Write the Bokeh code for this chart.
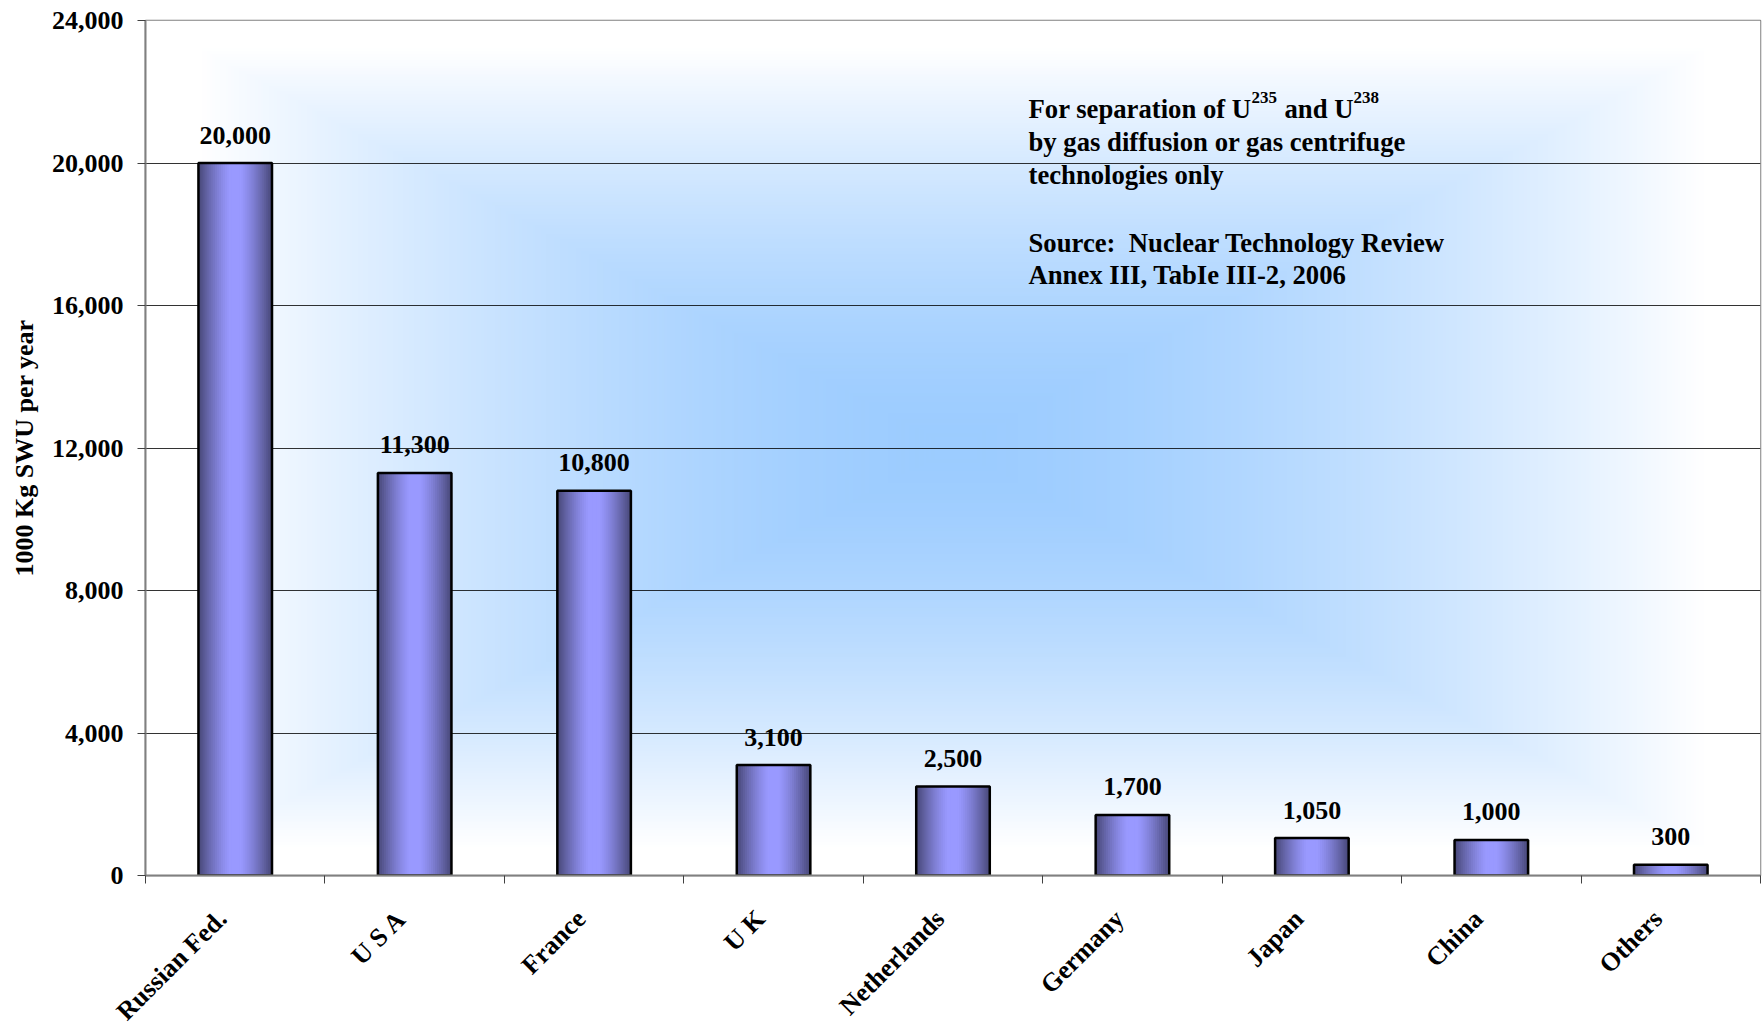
import numpy as np
from bokeh.plotting import figure
from bokeh.layouts import column
from bokeh.models import (Range1d, FixedTicker, NumeralTickFormatter, ColumnDataSource, Label)
from bokeh.embed import file_html
from bokeh.resources import INLINE
from bokeh.core.properties import value

# ---- data ----
categories = ["Russian Fed.", "U S A", "France", "U K", "Netherlands",
              "Germany", "Japan", "China", "Others"]
capacity = [20000, 11300, 10800, 3100, 2500, 1700, 1050, 1000, 300]
capacity_labels = ["20,000", "11,300", "10,800", "3,100", "2,500",
                   "1,700", "1,050", "1,000", "300"]
y_ticks = [0, 4000, 8000, 12000, 16000, 20000, 24000]
y_max = 24000

FONT = "Liberation Serif"
n = len(categories)
xc = [i + 0.5 for i in range(n)]
src = ColumnDataSource(dict(x=xc, top=capacity, label=capacity_labels))
cat_src = ColumnDataSource(dict(x=xc, y=[1] * n, name=categories))

# frame geometry (pixels)
FL, FR, FT, FB = 145, 1760, 20, 875
W_TOT, H_TOT = 1762, 1024
MAIN_BOTTOM = 12                      # space under the frame in the main figure
H_MAIN = FB + MAIN_BOTTOM
H_LAB = H_TOT - H_MAIN

p = figure(width=W_TOT, height=H_MAIN, output_backend="svg", toolbar_location=None,
           x_range=Range1d(0, n), y_range=Range1d(0, y_max),
           min_border_left=FL, min_border_right=W_TOT - FR,
           min_border_top=FT, min_border_bottom=MAIN_BOTTOM)
p.frame_align = False
p.background_fill_color = "white"
p.border_fill_color = "white"
p.outline_line_color = "#808080"
p.outline_line_width = 1.5

# ---- background rectangular gradient ----
GH, GW = 300, 600
yy, xx = np.mgrid[0:GH, 0:GW]
u = np.abs((xx + 0.5) / GW * 2 - 1)
v = np.abs((yy + 0.5) / GH * 2 - 1)
t = np.clip(np.maximum(u, v) / 0.93, 0, 1) ** 1.6
center = np.array([156, 204, 255], dtype=float)
edge = np.array([255, 255, 255], dtype=float)
img = np.zeros((GH, GW), dtype=np.uint32)
view = img.view(dtype=np.uint8).reshape((GH, GW, 4))
for c in range(3):
    view[..., c] = (center[c] * (1 - t) + edge[c] * t).astype(np.uint8)
view[..., 3] = 255
p.image_rgba(image=[img], x=0, y=0, dw=n, dh=y_max, level="image")

# ---- grid ----
p.xgrid.visible = False
p.ygrid.ticker = FixedTicker(ticks=y_ticks)
p.ygrid.grid_line_color = "black"
p.ygrid.grid_line_alpha = 0.8
p.ygrid.grid_line_width = 1

# ---- bars with horizontal cylinder shading ----
BW = 0.41
light = np.array([0x99, 0x99, 0xFF], dtype=float)
dark = np.array([0x4A, 0x4A, 0x7C], dtype=float)
NL = 18
for k in range(NL):
    frac = 1 - k / NL
    s = np.clip((frac - 0.15) / 0.85, 0, 1) ** 1.3
    col = light * (1 - s) + dark * s
    color = "#%02x%02x%02x" % tuple(int(round(c)) for c in col)
    p.vbar(x="x", top="top", bottom=0, width=BW * frac, source=src,
           fill_color=color, line_color=None)
p.vbar(x="x", top="top", bottom=0, width=BW, source=src,
       fill_color=None, line_color="black", line_width=2.5)

p.text(x="x", y="top", text="label", source=src, text_align="center",
       text_baseline="alphabetic", y_offset=-28, text_font=value(FONT),
       text_font_style="bold", text_font_size="26px", text_color="black")

# ---- axes ----
yax = p.yaxis[0]
yax.ticker = FixedTicker(ticks=y_ticks)
yax.formatter = NumeralTickFormatter(format="0,0")
yax.major_label_text_font = FONT
yax.major_label_text_font_style = "bold"
yax.major_label_text_font_size = "26px"
yax.major_label_text_color = "black"
yax.major_tick_in = 0
yax.major_tick_out = 8
yax.major_tick_line_color = "#404040"
yax.minor_tick_line_color = None
yax.axis_line_color = "#808080"
yax.axis_line_width = 2
yax.major_label_standoff = 14
yax.axis_label = "1000 Kg SWU per year"
yax.axis_label_text_font = FONT
yax.axis_label_text_font_style = "bold"
yax.axis_label_text_font_size = "26px"
yax.axis_label_text_color = "black"
yax.axis_label_standoff = 10

xax = p.xaxis[0]
xax.ticker = FixedTicker(ticks=[], minor_ticks=list(range(n + 1)))
xax.major_tick_line_color = None
xax.major_tick_in = 0
xax.major_tick_out = 0
xax.major_label_standoff = 0
xax.minor_tick_in = 0
xax.minor_tick_out = 8
xax.minor_tick_line_color = "#404040"
xax.axis_line_color = "#808080"
xax.axis_line_width = 2

# ---- annotation text ----
def px2x(px):
    return (px - FL) / (FR - FL) * n

def py2y(py):
    return (FB - py) / (FB - FT) * y_max

def note(txt, px, py, size="26.7px"):
    p.add_layout(Label(x=px2x(px), y=py2y(py), text=txt, text_font=FONT,
                       text_font_style="bold", text_font_size=size,
                       text_color="black", text_baseline="alphabetic",
                       text_align="left"))

note("For separation of U", 1028, 108)
note("235", 1251, 97, "17px")
note("and U", 1284, 108)
note("238", 1353, 97, "17px")
note("by gas diffusion or gas centrifuge", 1028, 141)
note("technologies only", 1028, 174)
note("Source:\u00a0 Nuclear Technology Review", 1028, 242)
note("Annex III, TabIe III-2, 2006", 1028, 274)

# ---- category labels strip (rotated), aligned with the main frame ----
catw = (FR - FL) / n
q = figure(width=W_TOT, height=H_LAB, output_backend="svg", toolbar_location=None,
           x_range=Range1d(-FL / catw, n + (W_TOT - FR) / catw), y_range=Range1d(0, 1),
           x_axis_type=None, y_axis_type=None,
           min_border_left=0, min_border_right=0, min_border_top=0, min_border_bottom=0)
q.frame_align = False
q.grid.visible = False
q.outline_line_color = None
q.background_fill_color = "white"
q.border_fill_color = "white"
q.text(x="x", y="y", text="name", source=cat_src, angle=np.pi / 4,
       text_align="right", text_baseline="middle", x_offset=-13,
       y_offset=19 + (FB + 20 - H_MAIN), text_font=value(FONT),
       text_font_style="bold", text_font_size="26px", text_color="black")

layout = column(p, q, spacing=0)
open("out.html", "w").write(file_html(layout, INLINE))
